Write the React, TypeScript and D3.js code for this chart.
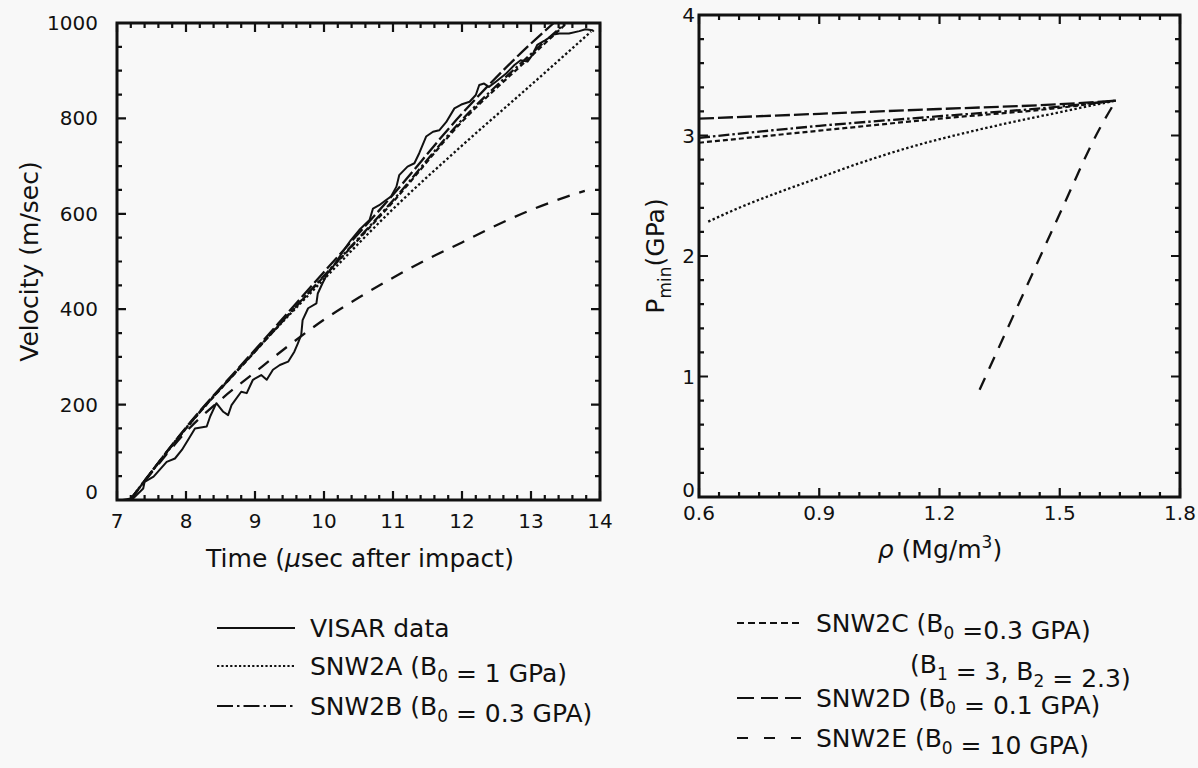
import React from 'react';
import * as d3 from 'd3';

const FONT = '"DejaVu Sans", "Liberation Sans", sans-serif';
const INK = '#111';
const BG = '#f8f8f8';

// ---------- Left panel: velocity vs time ----------
const visarTime = [7.08,7.24,7.38,7.40,7.53,7.72,7.84,7.94,8.06,8.13,8.30,8.35,8.44,8.54,8.61,8.66,8.80,8.88,8.97,9.09,9.17,9.26,9.36,9.48,9.57,9.62,9.67,9.69,9.77,9.89,9.91,9.98,10.05,10.13,10.32,10.39,10.51,10.66,10.71,10.80,10.90,10.97,11.05,11.09,11.21,11.31,11.38,11.48,11.58,11.67,11.77,11.89,11.99,12.11,12.20,12.25,12.32,12.39,12.49,12.64,12.76,12.85,12.95,13.02,13.09,13.21,13.33,13.41,13.55,13.70,13.79,13.89,13.91];
const visarVel = [0,4,24,38,49,80,87,105,133,150,154,175,203,185,178,199,227,224,252,262,252,273,283,290,311,328,346,377,402,412,433,455,475,489,531,545,566,587,611,618,629,636,657,681,699,706,727,762,772,775,792,821,829,835,849,870,873,866,877,894,912,922,919,933,954,964,976,978,978,983,987,985,982];

const snw2aTime = [7.19,8,9,10,11,12,13,13.87];
const snw2aVel = [0,150,312,463,610,743,870,982];
const snw2bTime = [7.19,8,9,10,11,12,13,13.5];
const snw2bVel = [0,151,312,470,628,797,935,1000];
const snw2cTime = [7.19,8,9,10,11,12,13,13.52];
const snw2cVel = [0,150,311,469,625,793,930,1000];
const snw2dTime = [7.19,8,9,10,11,12,13,13.33];
const snw2dVel = [0,152,315,478,640,810,957,1000];
const snw2eTime = [7.19,7.6,8,8.5,9,9.5,10,10.5,11,11.5,12,12.5,13,13.5,13.78];
const snw2eVel = [0,75,143,210,268,325,378,424,466,505,540,576,608,635,648];

const leftXTicks = [7,8,9,10,11,12,13,14];
const leftYTicks = [0,200,400,600,800,1000];

// ---------- Right panel: Pmin vs density ----------
const snw2aRho = [0.623,0.7,0.8,0.9,1.0,1.134,1.3,1.466,1.64];
const snw2aP = [2.285,2.40,2.53,2.65,2.77,2.91,3.05,3.17,3.29];
const snw2bRho = [0.6,0.9,1.2,1.5,1.64];
const snw2bP = [2.98,3.08,3.16,3.24,3.29];
const snw2cRho = [0.6,0.9,1.2,1.5,1.64];
const snw2cP = [2.94,3.04,3.14,3.23,3.29];
const snw2dRho = [0.6,0.9,1.2,1.5,1.64];
const snw2dP = [3.14,3.18,3.22,3.26,3.29];
const snw2eRho = [1.3,1.4,1.5,1.6,1.64];
const snw2eP = [0.89,1.62,2.35,3.06,3.29];

const rightXTicks = [0.6,0.9,1.2,1.5,1.8];
const rightYTicks = [0,1,2,3,4];

// line styles
const STY: Record<string, { dash?: string; w: number; legendDash?: string }> = {
  visar: { w: 2 },
  snw2a: { dash: '2.4,2.4', w: 2.3, legendDash: '2.2,2.2' },
  snw2b: { dash: '11,3,2.5,3', w: 2.3, legendDash: '16,4,2.5,4' },
  snw2c: { dash: '5,3', w: 2.2, legendDash: '7,4' },
  snw2d: { dash: '15,4', w: 2.3, legendDash: '17,7' },
  snw2e: { dash: '13,10', w: 2.3, legendDash: '11,16' },
};

const zip = (a: number[], b: number[]) => a.map((v, i) => [v, b[i]] as [number, number]);

type AxesProps = {
  x: d3.ScaleLinear<number, number>;
  y: d3.ScaleLinear<number, number>;
  xTicks: number[];
  yTicks: number[];
  xMinor: number;
  yMinor: number;
  xFmt: (v: number) => string;
  yFmt: (v: number) => string;
  xLabelY: number;
  yLabelX: number;
  zeroLift: number;
};

function Axes({ x, y, xTicks, yTicks, xMinor, yMinor, xFmt, yFmt, xLabelY, yLabelX, zeroLift }: AxesProps) {
  const xr = x.range();
  const yr = y.range();
  const left = xr[0], right = xr[1];
  const bottom = yr[0], top = yr[1];
  const xd = x.domain();
  const yd = y.domain();
  const nx = Math.round((xd[1] - xd[0]) / xMinor);
  const ny = Math.round((yd[1] - yd[0]) / yMinor);
  const isMajor = (v: number, arr: number[]) => arr.some(t => Math.abs(t - v) < 1e-6);
  const MAJ = 9, MIN = 5;
  const p = d3.path();
  for (let i = 0; i <= nx; i++) {
    const v = xd[0] + i * xMinor;
    const L = isMajor(v, xTicks) ? MAJ : MIN;
    const px = x(v);
    p.moveTo(px, bottom); p.lineTo(px, bottom - L);
    p.moveTo(px, top); p.lineTo(px, top + L);
  }
  for (let i = 0; i <= ny; i++) {
    const v = yd[0] + i * yMinor;
    const L = isMajor(v, yTicks) ? MAJ : MIN;
    const py = y(v);
    p.moveTo(left, py); p.lineTo(left + L, py);
    p.moveTo(right, py); p.lineTo(right - L, py);
  }
  return (
    <g>
      <path d={p.toString()} stroke={INK} strokeWidth={2.2} fill="none" />
      <rect x={left} y={top} width={right - left} height={bottom - top} fill="none" stroke={INK} strokeWidth={3} />
      {xTicks.map((v, i) => (
        <text key={'xl' + i} x={x(v)} y={xLabelY} textAnchor="middle" fontSize={20} fontFamily={FONT} fill={INK}>
          {xFmt(v)}
        </text>
      ))}
      {yTicks.map((v, i) => (
        <text key={'yl' + i} x={yLabelX} y={y(v) + (v === 0 ? zeroLift : 0)} textAnchor="end" dominantBaseline="central" fontSize={20} fontFamily={FONT} fill={INK}>
          {yFmt(v)}
        </text>
      ))}
    </g>
  );
}

function Series({ pts, x, y, k, curve }: { pts: [number, number][]; x: any; y: any; k: string; curve?: any }) {
  const gen = d3.line<[number, number]>().x(d => x(d[0])).y(d => y(d[1])).curve(curve || d3.curveLinear);
  const s = STY[k];
  return <path d={gen(pts) || ''} fill="none" stroke={INK} strokeWidth={s.w} strokeDasharray={s.dash} strokeLinejoin="round" />;
}

function LegendRow({ x1, x2, y, k, children }: { x1: number; x2: number; y: number; k: string; children: React.ReactNode }) {
  const s = STY[k];
  return (
    <g>
      <line x1={x1} x2={x2} y1={y - 9} y2={y - 9} stroke={INK} strokeWidth={1.9} strokeDasharray={s.legendDash} />
      <text x={x2 + 15} y={y} fontSize={25} fontFamily={FONT} fill={INK}>{children}</text>
    </g>
  );
}

const Sub = ({ t }: { t: string }) => (
  <>
    <tspan dy={7} fontSize={17}>{t}</tspan>
    <tspan dy={-7}>{''}</tspan>
  </>
);

export default function App() {
  const xL = d3.scaleLinear().domain([7, 14]).range([117, 600]);
  const yL = d3.scaleLinear().domain([0, 1000]).range([500, 23]);
  const xR = d3.scaleLinear().domain([0.6, 1.8]).range([699, 1180]);
  const yR = d3.scaleLinear().domain([0, 4]).range([497, 15]);
  const mono = d3.curveMonotoneX;

  return (
    <svg width={1198} height={768} style={{ position: 'absolute', left: 0, top: 0, background: BG }}>
      <rect x={0} y={0} width={1198} height={768} fill={BG} />
      {/* Left panel */}
      <Series pts={zip(snw2aTime, snw2aVel)} x={xL} y={yL} k="snw2a" curve={mono} />
      <Series pts={zip(snw2eTime, snw2eVel)} x={xL} y={yL} k="snw2e" curve={mono} />
      <Series pts={zip(snw2cTime, snw2cVel)} x={xL} y={yL} k="snw2c" curve={mono} />
      <Series pts={zip(snw2bTime, snw2bVel)} x={xL} y={yL} k="snw2b" curve={mono} />
      <Series pts={zip(snw2dTime, snw2dVel)} x={xL} y={yL} k="snw2d" curve={mono} />
      <Series pts={zip(visarTime, visarVel)} x={xL} y={yL} k="visar" />
      <Axes x={xL} y={yL} xTicks={leftXTicks} yTicks={leftYTicks} xMinor={0.2} yMinor={50}
        xFmt={v => String(v)} yFmt={v => String(v)} xLabelY={528} yLabelX={98} zeroLift={-8} />
      <text x={360} y={567} textAnchor="middle" fontSize={25} fontFamily={FONT} fill={INK}>
        Time (<tspan fontStyle="italic">µ</tspan>sec after impact)
      </text>
      <text transform={`translate(38,${(23 + 500) / 2}) rotate(-90)`} textAnchor="middle" fontSize={25} fontFamily={FONT} fill={INK}>
        Velocity (m/sec)
      </text>

      {/* Right panel */}
      <Series pts={zip(snw2aRho, snw2aP)} x={xR} y={yR} k="snw2a" curve={mono} />
      <Series pts={zip(snw2cRho, snw2cP)} x={xR} y={yR} k="snw2c" curve={mono} />
      <Series pts={zip(snw2bRho, snw2bP)} x={xR} y={yR} k="snw2b" curve={mono} />
      <Series pts={zip(snw2dRho, snw2dP)} x={xR} y={yR} k="snw2d" curve={mono} />
      <Series pts={zip(snw2eRho, snw2eP)} x={xR} y={yR} k="snw2e" curve={mono} />
      <Axes x={xR} y={yR} xTicks={rightXTicks} yTicks={rightYTicks} xMinor={0.05} yMinor={0.2}
        xFmt={v => v.toFixed(1)} yFmt={v => String(v)} xLabelY={520} yLabelX={695} zeroLift={-7} />
      <text x={940} y={558} textAnchor="middle" fontSize={25} fontFamily={FONT} fill={INK}>
        <tspan fontStyle="italic">ρ</tspan> (Mg/m<tspan dy={-10} fontSize={17}>3</tspan><tspan dy={10}>)</tspan>
      </text>
      <text transform={`translate(664,${(15 + 497) / 2}) rotate(-90)`} textAnchor="middle" fontSize={25} fontFamily={FONT} fill={INK}>
        P<tspan dy={7} fontSize={17}>min</tspan><tspan dy={-7}>(GPa)</tspan>
      </text>

      {/* Legend left */}
      <LegendRow x1={217} x2={295} y={637} k="visar">VISAR data</LegendRow>
      <LegendRow x1={217} x2={295} y={675} k="snw2a">SNW2A (B<Sub t="0" /> = 1 GPa)</LegendRow>
      <LegendRow x1={217} x2={295} y={715} k="snw2b">SNW2B (B<Sub t="0" /> = 0.3 GPA)</LegendRow>

      {/* Legend right */}
      <LegendRow x1={737} x2={801} y={632} k="snw2c">SNW2C (B<Sub t="0" /> =0.3 GPA)</LegendRow>
      <text x={910} y={673} fontSize={25} fontFamily={FONT} fill={INK}>
        (B<Sub t="1" /> = 3, B<Sub t="2" /> = 2.3)
      </text>
      <LegendRow x1={737} x2={801} y={707} k="snw2d">SNW2D (B<Sub t="0" /> = 0.1 GPA)</LegendRow>
      <LegendRow x1={737} x2={801} y={747} k="snw2e">SNW2E (B<Sub t="0" /> = 10 GPA)</LegendRow>
    </svg>
  );
}
